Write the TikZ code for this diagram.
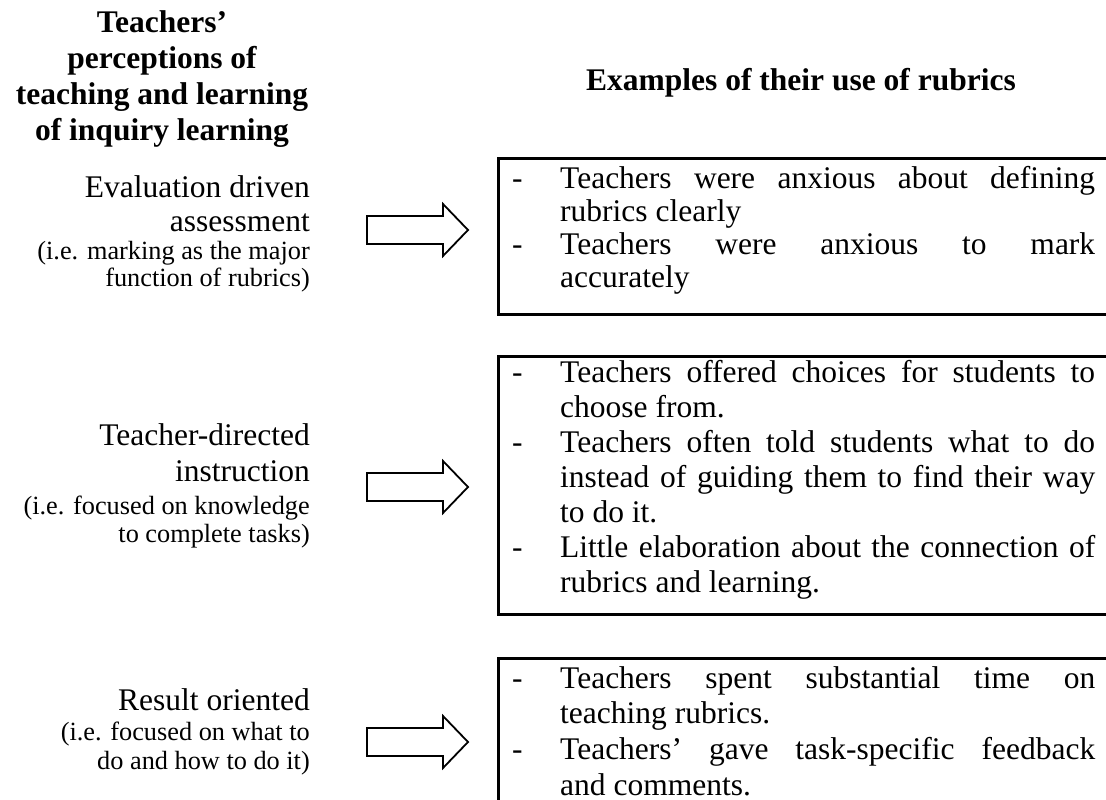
\documentclass[tikz,border=0pt]{standalone}
\usepackage{fontspec}
\setmainfont{Liberation Serif}
\begin{document}
\begin{tikzpicture}[x=1pt,y=-1pt,
  main/.style={font=\fontsize{31.5}{34}\selectfont, inner sep=0pt},
  sub/.style={font=\fontsize{26.3}{28}\selectfont, inner sep=0pt},
  head/.style={font=\fontsize{31.5}{34}\selectfont\bfseries, inner sep=0pt},
  listbox/.style={draw, line width=2.5pt, inner sep=0pt, anchor=north west},
  blockarrow/.style={draw, line width=1.8pt, line join=miter}]
\useasboundingbox (0,0) rectangle (1106,800);
\clip (0,0) rectangle (1106,800);
\newcommand{\jline}[1]{\makebox[535pt][s]{#1}}

% headers
\node[head, anchor=base] (h1) at (162,33) {Teachers’};
\node[head, anchor=base] (h2) at (162,69) {perceptions of};
\node[head, anchor=base] (h3) at (162,104) {teaching and learning};
\node[head, anchor=base] (h4) at (162,140) {of inquiry learning};
\node[head, anchor=base west] (hr) at (586,90) {Examples of their use of rubrics};

% left column
\node[main, anchor=base east] (l1a) at (310,197) {Evaluation driven};
\node[main, anchor=base east] (l1b) at (310,231) {assessment};
\node[sub, anchor=base east] (l1c) at (310,259) {(i.e. marking as the major};
\node[sub, anchor=base east] (l1d) at (310,286) {function of rubrics)};

\node[main, anchor=base east] (l2a) at (310,445) {Teacher-directed};
\node[main, anchor=base east] (l2b) at (310,481) {instruction};
\node[sub, anchor=base east] (l2c) at (310,514) {(i.e. focused on knowledge};
\node[sub, anchor=base east] (l2d) at (310,542) {to complete tasks)};

\node[main, anchor=base east] (l3a) at (310,710) {Result oriented};
\node[sub, anchor=base east] (l3b) at (310,740) {(i.e. focused on what to};
\node[sub, anchor=base east] (l3c) at (310,769) {do and how to do it)};

% block arrows
\foreach \c in {230,487,742}{
  \draw[blockarrow] (367,\c-14) -- (443,\c-14) -- (443,\c-26) -- (468,\c)
    -- (443,\c+26) -- (443,\c+14) -- (367,\c+14) -- cycle;
}

% boxes
\node[listbox, minimum width=650pt, minimum height=156pt] (b1) at (497,157) {};
\node[listbox, minimum width=650pt, minimum height=258pt] (b2) at (497,355) {};
\node[listbox, minimum width=650pt, minimum height=180pt] (b3) at (497,657) {};

% box 1 text
\node[main, anchor=base west] (d11) at (512,188) {-};
\node[main, anchor=base west] (t11) at (560,188) {\jline{Teachers were anxious about defining}};
\node[main, anchor=base west] (t12) at (560,221) {rubrics clearly};
\node[main, anchor=base west] (d12) at (512,254) {-};
\node[main, anchor=base west] (t13) at (560,254) {\jline{Teachers were anxious to mark}};
\node[main, anchor=base west] (t14) at (560,287) {accurately};

% box 2 text
\node[main, anchor=base west] (d21) at (512,382) {-};
\node[main, anchor=base west] (t21) at (560,382) {\jline{Teachers offered choices for students to}};
\node[main, anchor=base west] (t22) at (560,417) {choose from.};
\node[main, anchor=base west] (d22) at (512,452) {-};
\node[main, anchor=base west] (t23) at (560,452) {\jline{Teachers often told students what to do}};
\node[main, anchor=base west] (t24) at (560,487) {\jline{instead of guiding them to find their way}};
\node[main, anchor=base west] (t25) at (560,522) {to do it.};
\node[main, anchor=base west] (d23) at (512,557) {-};
\node[main, anchor=base west] (t26) at (560,557) {\jline{Little elaboration about the connection of}};
\node[main, anchor=base west] (t27) at (560,592) {rubrics and learning.};

% box 3 text
\node[main, anchor=base west] (d31) at (512,688) {-};
\node[main, anchor=base west] (t31) at (560,688) {\jline{Teachers spent substantial time on}};
\node[main, anchor=base west] (t32) at (560,723) {teaching rubrics.};
\node[main, anchor=base west] (d32) at (512,759) {-};
\node[main, anchor=base west] (t33) at (560,759) {\jline{Teachers’ gave task-specific feedback}};
\node[main, anchor=base west] (t34) at (560,795) {and comments.};
\end{tikzpicture}
\end{document}
